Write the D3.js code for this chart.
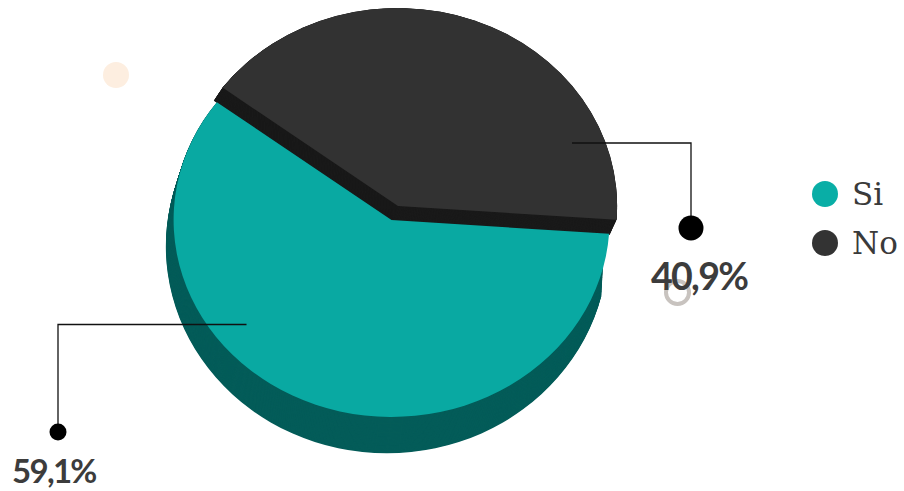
<!DOCTYPE html>
<html><head><meta charset="utf-8">
<script src="https://cdn.jsdelivr.net/npm/d3@7"></script>
<style>html,body{margin:0;padding:0;background:#fff}svg{display:block}</style>
</head><body><svg id="c" width="904" height="491"></svg>
<script>
const categories = ["Si", "No"];
const values = [59.1, 40.9];
const valueLabels = ["59,1%", "40,9%"];
const topColors = ["#09a9a2", "#323232"];
const sideColors = ["#045c59", "#1a1a1a"];
const legendColors = ["#09aea6", "#333333"];

const svg = d3.select("#c");
const deg = Math.PI / 180;
const start = 94 * deg;
const slices = d3.pie().sort(null).startAngle(start).endAngle(start + 2 * Math.PI)(values);
const arcGen = d3.arc().innerRadius(0).outerRadius(1);

function sector(layer, slice, cx, cy, rx, ry, fill) {
  layer.append("path")
    .attr("d", arcGen(slice))
    .attr("transform", `translate(${cx},${cy}) scale(${rx},${ry})`)
    .attr("fill", fill);
}
function extrude(layer, slice, a, b, fill) {
  const n = 40;
  for (let i = 0; i <= n; i++) {
    const t = i / n, m = k => a[k] + (b[k] - a[k]) * t;
    sector(layer, slice, m(0), m(1), m(2), m(3), fill);
  }
}

// decorations
svg.append("circle").attr("cx", 116).attr("cy", 75).attr("r", 13).attr("fill", "#fdeee0");
svg.append("circle").attr("cx", 677.5).attr("cy", 292.5).attr("r", 11.5)
  .attr("fill", "none").attr("stroke", "#c8c3bf").attr("stroke-width", 4);

const pieG = svg.append("g");
// Si side wedge starts a little later so its far corner stays behind the top face
const siSide = Object.assign({}, slices[0], {startAngle: 104 * deg});
extrude(pieG, siSide, [387, 246, 221, 207], [391.5, 220, 218, 197], sideColors[0]);
extrude(pieG, slices[1], [390, 221, 220, 201], [398, 206, 219, 198], sideColors[1]);
sector(pieG, slices[1], 398, 206, 219, 198, topColors[1]);
sector(pieG, slices[0], 391.5, 220, 218, 197, topColors[0]);

// leaders
const leaderPath = d3.line();
const leaders = [
  {pts: [[246.5, 324.5], [58, 324.5], [58, 432]], dot: [58, 432], r: 8.5, label: [12, 483], size: 33},
  {pts: [[572, 143], [691, 143], [691, 228]], dot: [691, 228], r: 12.5, label: [651, 290], size: 37.5}
];
leaders.forEach((l, i) => {
  svg.append("path").attr("d", leaderPath(l.pts)).attr("fill", "none").attr("stroke", "#111").attr("stroke-width", 1.3);
  svg.append("circle").attr("cx", l.dot[0]).attr("cy", l.dot[1]).attr("r", l.r).attr("fill", "#000");
  svg.append("text").attr("x", l.label[0]).attr("y", l.label[1]).text(valueLabels[i])
    .attr("font-family", "Lato").attr("font-weight", 700).attr("font-size", l.size)
    .attr("letter-spacing", -1.7).attr("fill", "#3c3c3c");
});

// legend
const legendY = d3.scalePoint().domain(categories).range([194, 243]);
categories.forEach((c, i) => {
  svg.append("circle").attr("cx", 825).attr("cy", legendY(c)).attr("r", 13).attr("fill", legendColors[i]);
  svg.append("text").attr("x", 852).attr("y", legendY(c) + 11).text(c)
    .attr("font-family", "DejaVu Serif").attr("font-size", 31).attr("fill", "#3a3a3a");
});
</script></body></html>
